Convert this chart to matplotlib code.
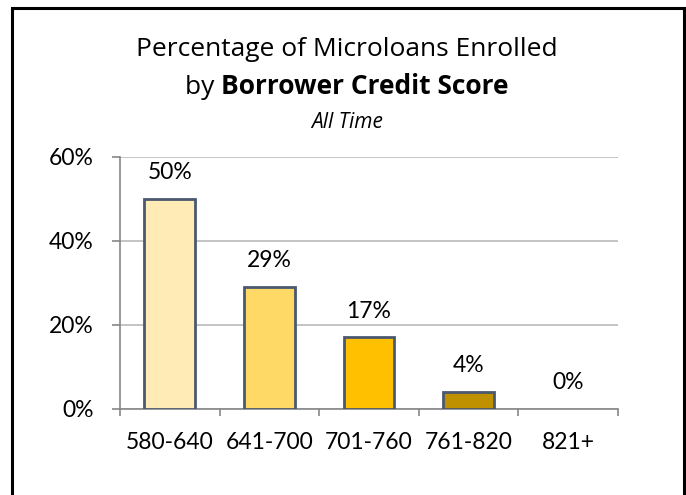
import matplotlib
matplotlib.use("Agg")
import matplotlib.pyplot as plt
from matplotlib.lines import Line2D
import numpy as np

categories = ["580-640", "641-700", "701-760", "761-820", "821+"]
values = [50, 29, 17, 4, 0]
labels = ["50%", "29%", "17%", "4%", "0%"]
colors = ["#FFEBB6", "#FFD966", "#FFC000", "#BF9000", "#7F6000"]
yticks = [0, 20, 40, 60]
ytick_labels = ["0%", "20%", "40%", "60%"]

W, H = 686, 495
fig = plt.figure(figsize=(W / 100, H / 100), dpi=100)
fig.patch.set_facecolor("white")

ax_l, ax_r, ax_t, ax_b = 120, 618, 157, 408.5
ax = fig.add_axes([ax_l / W, 1 - ax_b / H, (ax_r - ax_l) / W, (ax_b - ax_t) / H])

x = np.arange(len(categories))
edges = ["#4A5870" if v > 0 else "none" for v in values]
bars = ax.bar(x, values, width=0.51, color=colors, edgecolor=edges,
              linewidth=2.0, zorder=3)
ax.set_xlim(-0.5, len(categories) - 0.5)
ax.set_ylim(0, 60)

tick_font = dict(family=["Lato", "DejaVu Sans"], size=16.5)
ax.set_yticks(yticks)
ax.set_yticklabels(ytick_labels, fontdict=tick_font)
ax.yaxis.grid(True, color="#BFBFBF", linewidth=1.3, zorder=0)
ax.tick_params(axis="y", length=6, width=1.2, color="#868686", pad=13)

ax.set_xticks(np.arange(len(categories) + 1) - 0.5)
ax.set_xticklabels([""] * (len(categories) + 1))
ax.set_xticks(x, minor=True)
ax.set_xticklabels(categories, minor=True, fontdict=tick_font)
ax.tick_params(axis="x", which="major", length=5, width=1.2, color="#868686")
ax.tick_params(axis="x", which="minor", length=0, pad=17)

for s in ["top", "right"]:
    ax.spines[s].set_visible(False)
for s in ["left", "bottom"]:
    ax.spines[s].set_color("#868686")
    ax.spines[s].set_linewidth(1.2)

for xi, v, lab in zip(x, values, labels):
    ax.annotate(lab, (xi, v), xytext=(0, 18.7), textcoords="offset points",
                ha="center", va="center", fontsize=16.5,
                family=["Lato", "DejaVu Sans"], color="#000000")

title_font = ["Open Sans", "DejaVu Sans"]
fig.text(347 / W, 1 - 50 / H, "Percentage of Microloans Enrolled",
         ha="center", va="center", fontsize=19, family=title_font)
t1 = fig.text(0, 0, "by ", fontsize=19, family=title_font)
t2 = fig.text(0, 0, "Borrower Credit Score", fontsize=19, family=title_font,
              weight="bold")
fig.canvas.draw()
r = fig.canvas.get_renderer()
w1 = t1.get_window_extent(r).width
w2 = t2.get_window_extent(r).width
x0 = 347 - (w1 + w2) / 2
t1.set_position((x0 / W, 1 - 87 / H))
t1.set_va("center")
t2.set_position(((x0 + w1) / W, 1 - 87 / H))
t2.set_va("center")
fig.text(347 / W, 1 - 123 / H, "All Time", ha="center", va="center",
         fontsize=15, style="italic", family=title_font)

# outer border (left, top, right)
fig.add_artist(Line2D([12 / W, 12 / W, 684 / W, 684 / W],
                      [0, 1 - 7.5 / H, 1 - 7.5 / H, 0],
                      transform=fig.transFigure, color="black", linewidth=2.2,
                      solid_joinstyle="miter"))

fig.savefig("out.png", dpi=100, facecolor="white")
